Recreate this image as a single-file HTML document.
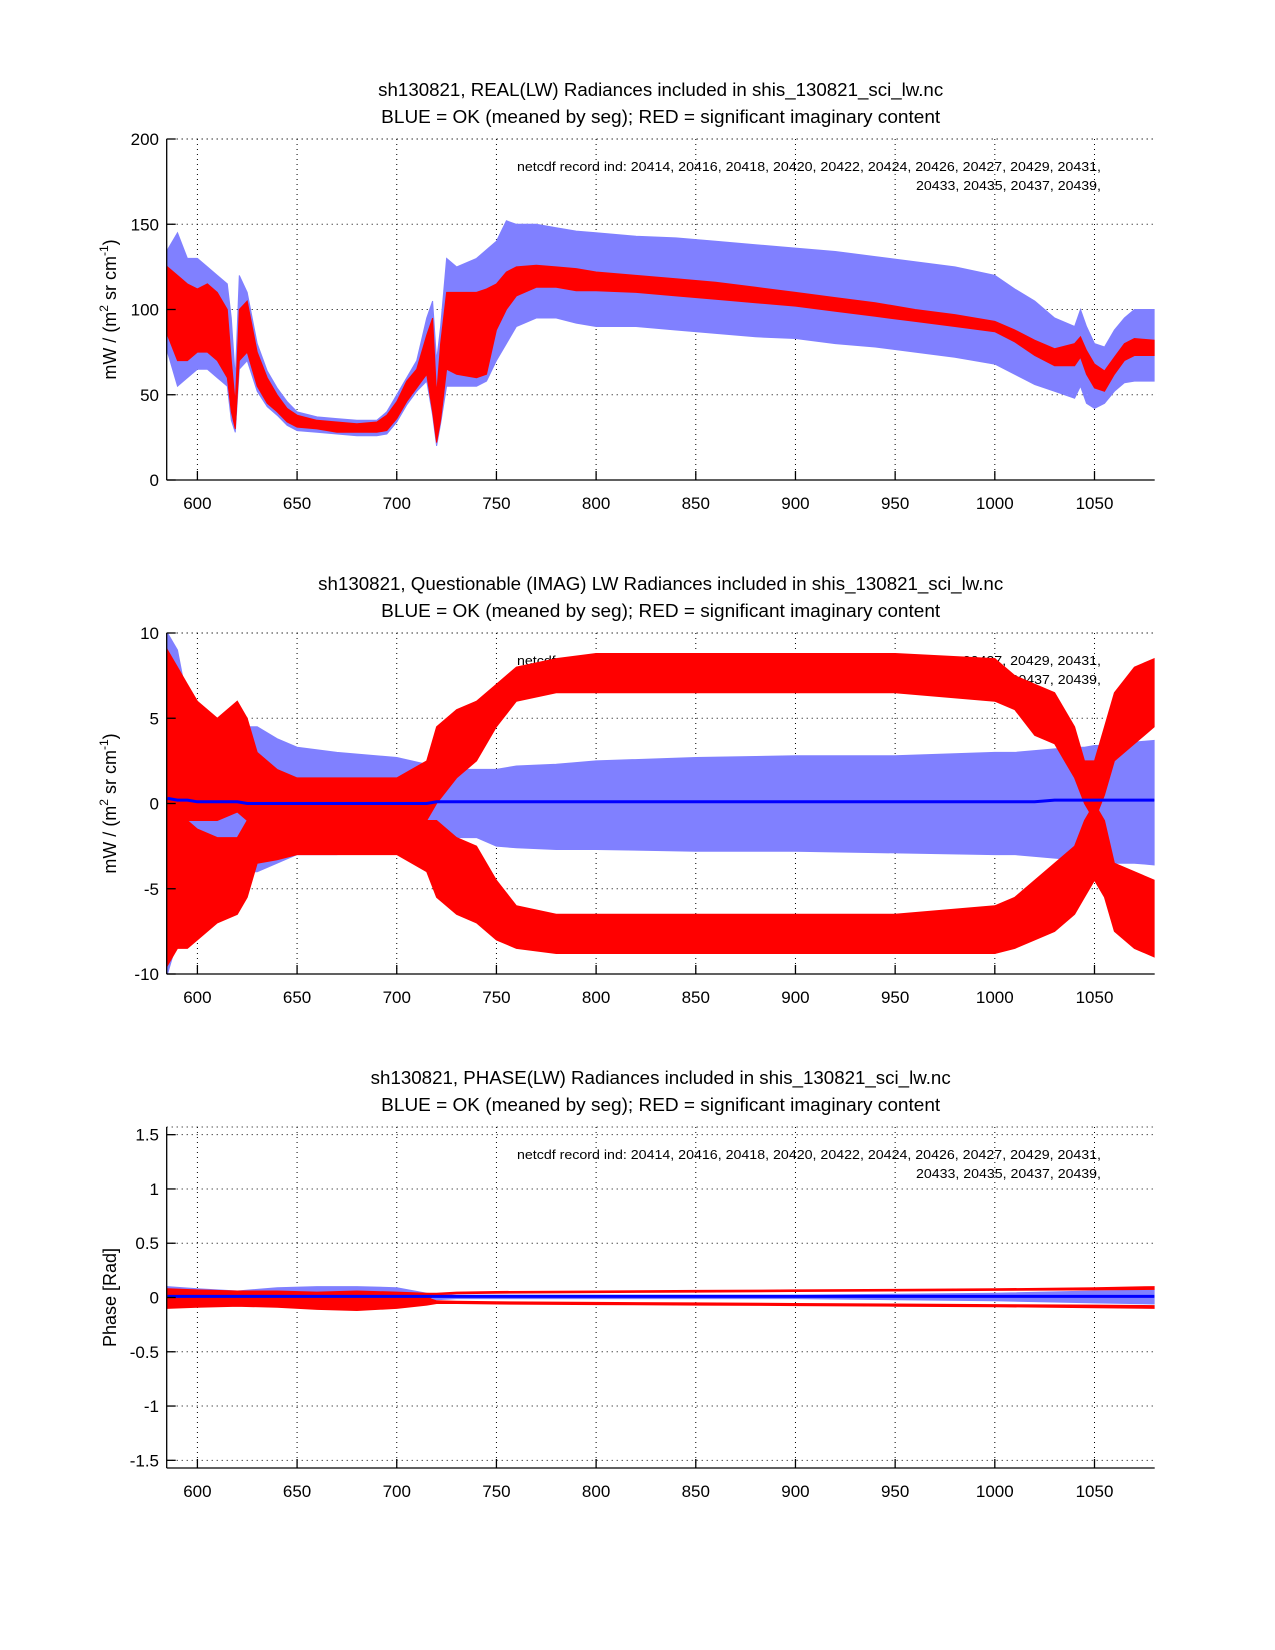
<!DOCTYPE html>
<html><head><meta charset="utf-8"><style>
html,body{margin:0;padding:0;background:#fff;}
svg{display:block;font-family:"Liberation Sans",Arial,sans-serif;}
</style></head><body>
<svg id="fig" width="1275" height="1650" viewBox="0 0 1275 1650" xmlns="http://www.w3.org/2000/svg"></svg>
<script>
// ---------- shared axis data ----------
const xTicks = [600,650,700,750,800,850,900,950,1000,1050];
const xMin = 584.6, xMax = 1080.2;
const recordLine1 = "netcdf record ind:  20414, 20416, 20418, 20420, 20422, 20424, 20426, 20427, 20429, 20431,";
const recordLine2 = "20433, 20435, 20437, 20439,";

// ---------- panel 1: REAL ----------
const x1 = [585,590,595,600,605,610,615,617,619,621,625,630,635,640,645,650,660,670,680,690,695,700,705,710,715,718,720,722,725,730,740,745,750,755,760,770,780,790,800,820,840,860,880,900,920,940,960,980,1000,1010,1020,1030,1040,1043,1046,1050,1055,1060,1065,1070,1080];
const blueHi1 = [135,145,130,130,125,120,115,95,60,120,110,80,64,54,46,40,37,36,35,35,40,50,60,70,95,105,70,90,130,125,130,135,140,152,150,150,148,146,145,143,142,140,138,136,134,131,128,125,120,112,105,95,90,100,90,80,78,88,95,100,100];
const blueLo1 = [75,55,60,65,65,60,55,35,28,65,70,52,43,38,32,29,28,27,26,26,27,34,44,52,58,38,20,33,55,55,55,58,70,80,90,95,95,92,90,90,88,86,84,83,80,78,75,72,68,62,56,52,48,55,45,42,45,52,57,58,58];
const redHi1 = [125,120,115,112,115,110,100,70,45,100,105,75,60,50,42,38,35,34,33,34,38,46,58,65,85,95,50,80,110,110,110,112,115,122,125,126,125,124,122,120,118,116,113,110,107,104,100,97,93,88,82,77,80,84,76,68,64,72,80,83,82];
const redLo1 = [85,70,70,75,75,70,60,40,30,70,75,55,45,40,34,31,30,28,28,28,29,36,46,54,62,40,22,35,65,62,60,62,88,100,108,113,113,111,111,110,108,106,104,102,99,96,93,90,87,81,73,67,67,72,62,54,52,62,70,73,73];
const mean1 = [100,95,92,93,95,90,80,55,35,85,90,65,52,45,38,34,32,31,30,31,33,41,52,60,74,68,36,58,88,86,85,87,102,110,114,116,115,113,113,112,110,108,106,104,101,98,95,92,89,84,77,71,73,78,69,61,58,66,74,77,77];
const yTicks1 = [0,50,100,150,200];

// ---------- panel 2: IMAG ----------
const x2 = [585,590,595,600,610,620,625,630,640,650,670,700,715,720,730,740,750,760,780,800,850,900,950,1000,1010,1020,1030,1040,1045,1050,1055,1060,1070,1080];
const blueHi2 = [10,9,6,5,4,4.2,4.5,4.5,3.8,3.3,3,2.7,2.3,2.2,2,2,2,2.2,2.3,2.5,2.7,2.8,2.8,3,3,3.1,3.2,3.3,3.3,3.4,3.4,3.5,3.6,3.7];
const blueLo2 = [-10,-8,-6,-5.5,-4.5,-4,-4,-4,-3.5,-3,-3,-2.5,-2.2,-2,-2,-2,-2.5,-2.6,-2.7,-2.7,-2.8,-2.8,-2.9,-3,-3,-3.1,-3.2,-3.3,-3.3,-3.4,-3.4,-3.5,-3.5,-3.6];
const redUpHi2 = [9,8,7,6,5,6,5,3,2,1.5,1.5,1.5,2.5,4.5,5.5,6,7,8,8.5,8.8,8.8,8.8,8.8,8.5,7.5,7,6.5,4.5,2.5,2.5,4.5,6.5,8,8.5];
const redUpLo2 = [-1,-2,-1,-1,-1,-0.5,-1,-1,-1,-1,-1,-1,-1,0,1.5,2.5,4.5,6,6.5,6.5,6.5,6.5,6.5,6,5.5,4,3.5,1.5,0,-1,0.5,2.5,3.5,4.5];
const redDnHi2 = [0,0,-1,-1.5,-2,-2,-1,-0.5,-0.5,-0.5,-0.5,-0.5,-1,-1,-2,-2.5,-4.5,-6,-6.5,-6.5,-6.5,-6.5,-6.5,-6,-5.5,-4.5,-3.5,-2.5,-1,0,-1,-3.5,-4,-4.5];
const redDnLo2 = [-9.5,-8.5,-8.5,-8,-7,-6.5,-5.5,-3.5,-3.3,-3,-3,-3,-4,-5.5,-6.5,-7,-8,-8.5,-8.8,-8.8,-8.8,-8.8,-8.8,-8.8,-8.5,-8,-7.5,-6.5,-5.5,-4.5,-5.5,-7.5,-8.5,-9];
const mean2 = [0.3,0.2,0.2,0.1,0.1,0.1,0,0,0,0,0,0,0,0.1,0.1,0.1,0.1,0.1,0.1,0.1,0.1,0.1,0.1,0.1,0.1,0.1,0.2,0.2,0.2,0.2,0.2,0.2,0.2,0.2];
const yTicks2 = [-10,-5,0,5,10];

// ---------- panel 3: PHASE ----------
const x3 = [585,600,620,640,660,680,700,715,720,730,750,800,850,900,950,1000,1050,1080];
const blueHi3 = [0.1,0.08,0.06,0.09,0.1,0.1,0.09,0.04,0.03,0.02,0.02,0.02,0.02,0.02,0.03,0.04,0.06,0.07];
const blueLo3 = [-0.08,-0.06,-0.05,-0.05,-0.06,-0.07,-0.06,-0.03,-0.02,-0.01,-0.01,-0.01,-0.01,-0.01,-0.02,-0.03,-0.05,-0.06];
const redUpHi3 = [0.08,0.07,0.06,0.06,0.05,0.06,0.05,0.04,0.04,0.05,0.055,0.06,0.065,0.07,0.075,0.08,0.09,0.1];
const redUpLo3 = [-0.05,-0.05,-0.04,-0.04,-0.05,-0.05,-0.04,-0.02,0.025,0.035,0.04,0.045,0.05,0.055,0.06,0.065,0.07,0.075];
const redDnHi3 = [0.02,0.02,0.01,0.01,0.01,0,0.01,0,-0.03,-0.035,-0.04,-0.045,-0.05,-0.055,-0.06,-0.065,-0.07,-0.075];
const redDnLo3 = [-0.1,-0.09,-0.08,-0.09,-0.11,-0.12,-0.1,-0.07,-0.055,-0.055,-0.06,-0.065,-0.07,-0.075,-0.08,-0.085,-0.095,-0.1];
const mean3 = [0.01,0.01,0.01,0.01,0.01,0.01,0.01,0.01,0.01,0.01,0.01,0.01,0.01,0.01,0.01,0.01,0.01,0.01];
const yTicks3 = [-1.5,-1,-0.5,0,0.5,1,1.5];
const yTickLabels3 = ["-1.5","-1","-0.5","0","0.5","1","1.5"];

// ---------- drawing ----------
const NS = "http://www.w3.org/2000/svg";
const svg = document.getElementById('fig');
const L = 166.7, R = 1154.7, H = 341;
function mk(tag, attrs, parent){ const e=document.createElementNS(NS,tag); for(const k in attrs) e.setAttribute(k,attrs[k]); (parent||svg).appendChild(e); return e; }

function panel(opts){
  const top = opts.top, bot = top + H;
  const g = mk('g',{});
  
  
  const sx = v => L + (v - xMin) / (xMax - xMin) * (R - L);
  const sy = v => bot - (v - opts.yMin) / (opts.yMax - opts.yMin) * H;

  const t1 = mk('text',{x:(L+R)/2, y:top-43, 'text-anchor':'middle','font-size':18,fill:'#000',textLength:opts.titleW,lengthAdjust:'spacingAndGlyphs'},g);
  t1.textContent = opts.title1;
  
  
  const t2 = mk('text',{x:(L+R)/2, y:top-16, 'text-anchor':'middle','font-size':18,fill:'#000',textLength:559,lengthAdjust:'spacingAndGlyphs'},g);
  t2.textContent = "BLUE = OK (meaned by seg); RED = significant imaginary content";
  
  

  const grid = mk('g',{stroke:'#000','stroke-width':1,'stroke-dasharray':'1,4'},g);
  
  
  xTicks.forEach(v=>{ mk('line',{x1:sx(v),x2:sx(v),y1:top,y2:bot},grid); });
  opts.yTicks.forEach(v=>{ mk('line',{x1:L,x2:R,y1:sy(v),y2:sy(v)},grid); });
  mk('line',{x1:L,x2:R,y1:top,y2:top},grid);

  function annot(){
    const a1 = mk('text',{x:1101,y:top+32,'text-anchor':'end','font-size':13,fill:'#000',textLength:584,lengthAdjust:'spacingAndGlyphs'},g);
    a1.textContent = recordLine1;
    
    
    const a2 = mk('text',{x:1101,y:top+51,'text-anchor':'end','font-size':13,fill:'#000',textLength:185,lengthAdjust:'spacingAndGlyphs'},g);
    a2.textContent = recordLine2;
    
    
  }
  if(opts.annotBefore) annot();

  const clip = 'clip'+opts.name;
  const cp = mk('clipPath',{id:clip},g); mk('rect',{x:L,y:top,width:R-L,height:H},cp);
  const data = mk('g',{'clip-path':'url(#'+clip+')'},g);
  function band(xs,hi,lo,color,name){
    let d='M'+xs.map((x,i)=>sx(x).toFixed(1)+','+sy(hi[i]).toFixed(1)).join('L');
    for(let i=xs.length-1;i>=0;i--) d+='L'+sx(xs[i]).toFixed(1)+','+sy(lo[i]).toFixed(1);
    const p = mk('path',{d:d+'Z',fill:color,stroke:color,'stroke-width':1},data);
    
    
  }
  function line(xs,ys,color,w,name){
    const p = mk('path',{d:'M'+xs.map((x,i)=>sx(x).toFixed(1)+','+sy(ys[i]).toFixed(1)).join('L'),fill:'none',stroke:color,'stroke-width':w},data);
    
    
  }
  band(opts.x, opts.bHi, opts.bLo, '#8080ff', 'blue-spread-band');
  line(opts.x, opts.mean, '#0000ff', 2, 'blue-mean-line');
  opts.red.forEach((r,i)=> band(opts.x, r[0], r[1], '#ff0000', 'red-band-'+i));
  if(opts.meanOnTop) line(opts.x, opts.mean, '#0000ff', 3, 'blue-mean-line-top');
  if(!opts.annotBefore) annot();

  const ax = mk('g',{stroke:'#000','stroke-width':1.3},g);
  
  
  mk('line',{x1:L,x2:L,y1:top,y2:bot},ax);
  mk('line',{x1:L,x2:R,y1:bot,y2:bot},ax);
  xTicks.forEach(v=>{ mk('line',{x1:sx(v),x2:sx(v),y1:bot,y2:bot-9},ax); });
  opts.yTicks.forEach(v=>{ mk('line',{x1:L,x2:L+9,y1:sy(v),y2:sy(v)},ax); });

  xTicks.forEach(v=>{
    const t = mk('text',{x:sx(v),y:bot+29,'text-anchor':'middle','font-size':17,fill:'#000'},g);
    t.textContent = v;
    
    
  });
  opts.yTicks.forEach((v,i)=>{
    const t = mk('text',{x:159,y:sy(v)+6,'text-anchor':'end','font-size':17,fill:'#000'},g);
    t.textContent = opts.yLabels ? opts.yLabels[i] : v;
    
    
  });
  const yl = mk('text',{x:0,y:0,'text-anchor':'middle','font-size':18,fill:'#000',transform:'translate(116,'+(top+H/2)+') rotate(-90)'},g);
  
  
  if(opts.phase){ yl.textContent = 'Phase [Rad]'; }
  else {
    yl.innerHTML = 'mW / (m<tspan dy="-8" font-size="12">2</tspan><tspan dy="8"> sr cm</tspan><tspan dy="-8" font-size="12">-1</tspan><tspan dy="8">)</tspan>';
  }
}

panel({name:'real-panel', top:139, yMin:0, yMax:200, yTicks:yTicks1, titleW:565,
  title1:'sh130821, REAL(LW) Radiances included in shis_130821_sci_lw.nc',
  x:x1, bHi:blueHi1, bLo:blueLo1, mean:mean1, red:[[redHi1,redLo1]], annotBefore:false});
panel({name:'imag-panel', top:633, yMin:-10, yMax:10, yTicks:yTicks2, titleW:685,
  title1:'sh130821, Questionable (IMAG) LW Radiances included in shis_130821_sci_lw.nc',
  x:x2, bHi:blueHi2, bLo:blueLo2, mean:mean2, red:[[redUpHi2,redUpLo2],[redDnHi2,redDnLo2]], annotBefore:true, meanOnTop:true});
panel({name:'phase-panel', top:1127, yMin:-1.5708, yMax:1.5708, yTicks:yTicks3, yLabels:yTickLabels3, phase:true, titleW:580,
  title1:'sh130821, PHASE(LW) Radiances included in shis_130821_sci_lw.nc',
  x:x3, bHi:blueHi3, bLo:blueLo3, mean:mean3, red:[[redUpHi3,redUpLo3],[redDnHi3,redDnLo3]], annotBefore:false, meanOnTop:true});
</script>
</body></html>
